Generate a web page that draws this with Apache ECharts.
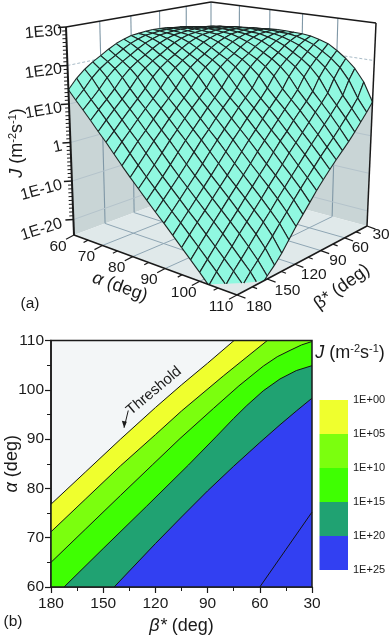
<!DOCTYPE html>
<html>
<head>
<meta charset="utf-8">
<script src="https://cdn.jsdelivr.net/npm/echarts@6/dist/echarts.min.js"></script>
<style>
    html, body { margin: 0; padding: 0; background: #fff; }
    #chart { width: 390px; height: 635px; }
</style>
</head>
<body>
<div id="chart"></div>
<script>
// (a) surface, log10(J). rows = alpha, columns = beta
var surfAlpha = [60, 62.5, 65, 67.5, 70, 72.5, 75, 77.5, 80, 82.5, 85, 87.5, 90, 92.5, 95, 97.5, 100, 102.5, 105, 107.5, 110];
var surfBeta = [30, 37.5, 45, 52.5, 60, 67.5, 75, 82.5, 90, 97.5, 105, 112.5, 120, 127.5, 135, 142.5, 150, 157.5, 165, 172.5, 180];
var surfLogJ = [
    [22.3, 22.7, 23.2, 23.7, 24.1, 24.4, 24.6, 24.9, 25.0, 25.1, 25.0, 24.8, 24.6, 24.0, 23.2, 22.1, 20.8, 19.6, 18.1, 16.2, 13.7],
    [22.6, 23.2, 23.7, 24.1, 24.4, 24.6, 24.9, 25.0, 25.1, 25.0, 24.8, 24.6, 24.0, 23.2, 22.1, 20.8, 19.6, 18.1, 16.2, 13.7, 11.5],
    [22.9, 23.6, 24.1, 24.4, 24.6, 24.9, 25.0, 25.1, 25.0, 24.8, 24.6, 24.0, 23.2, 22.1, 20.8, 19.6, 18.1, 16.2, 13.7, 11.5, 9.4],
    [23.2, 24.0, 24.4, 24.6, 24.9, 25.0, 25.1, 25.0, 24.8, 24.6, 24.0, 23.2, 22.1, 20.8, 19.6, 18.1, 16.2, 13.7, 11.5, 9.4, 7.2],
    [23.5, 24.2, 24.5, 24.9, 25.0, 25.1, 25.0, 24.8, 24.6, 24.0, 23.2, 22.1, 20.8, 19.6, 18.1, 16.2, 13.7, 11.5, 9.4, 7.2, 4.9],
    [23.8, 24.4, 24.8, 25.0, 25.1, 25.0, 24.8, 24.6, 24.0, 23.2, 22.1, 20.8, 19.6, 18.1, 16.2, 13.7, 11.5, 9.4, 7.2, 4.9, 2.7],
    [24.1, 24.6, 24.9, 25.0, 25.0, 24.8, 24.6, 24.0, 23.2, 22.1, 20.8, 19.6, 18.1, 16.2, 13.7, 11.5, 9.4, 7.2, 4.9, 2.7, 0.3],
    [24.3, 24.7, 25.0, 24.9, 24.8, 24.6, 24.0, 23.2, 22.1, 20.8, 19.6, 18.1, 16.2, 13.7, 11.5, 9.4, 7.2, 4.9, 2.7, 0.3, -2.1],
    [24.5, 24.8, 24.9, 24.7, 24.6, 24.0, 23.2, 22.1, 20.8, 19.6, 18.1, 16.2, 13.7, 11.5, 9.4, 7.2, 4.9, 2.7, 0.3, -2.1, -4.4],
    [24.6, 24.8, 24.7, 24.6, 24.0, 23.2, 22.1, 20.8, 19.6, 18.1, 16.2, 13.6, 11.4, 9.4, 7.2, 4.9, 2.7, 0.3, -2.1, -4.4, -6.6],
    [24.6, 24.6, 24.5, 24.0, 23.3, 22.2, 20.8, 19.6, 18.0, 16.1, 13.6, 11.4, 9.3, 7.1, 4.9, 2.7, 0.3, -2.1, -4.4, -6.6, -8.8],
    [24.5, 24.5, 24.0, 23.3, 22.2, 20.9, 19.6, 18.0, 16.0, 13.5, 11.3, 9.3, 7.1, 4.8, 2.7, 0.3, -2.1, -4.4, -6.6, -8.8, -11.0],
    [24.4, 24.1, 23.3, 22.3, 20.9, 19.6, 18.0, 16.0, 13.3, 11.2, 9.2, 7.0, 4.8, 2.6, 0.3, -2.1, -4.4, -6.6, -8.8, -11.0, -13.1],
    [24.1, 23.4, 22.4, 20.9, 19.5, 17.9, 15.9, 13.2, 11.0, 9.0, 6.9, 4.7, 2.6, 0.2, -2.1, -4.4, -6.6, -8.8, -11.0, -13.1, -15.3],
    [23.5, 22.5, 21.0, 19.5, 17.8, 15.7, 12.9, 10.8, 8.8, 6.7, 4.5, 2.4, 0.1, -2.2, -4.5, -6.6, -8.8, -11.0, -13.1, -15.3, -17.5],
    [22.7, 21.1, 19.5, 17.7, 15.5, 12.6, 10.5, 8.5, 6.4, 4.3, 2.2, 0.0, -2.3, -4.5, -6.7, -8.8, -11.0, -13.1, -15.3, -17.5, -19.7],
    [21.2, 19.5, 17.5, 15.2, 12.1, 10.0, 8.1, 6.1, 3.9, 2.0, -0.2, -2.5, -4.6, -6.8, -8.9, -11.1, -13.2, -15.3, -17.5, -19.7, -21.9],
    [19.4, 17.4, 14.9, 11.6, 9.5, 7.6, 5.5, 3.5, 1.5, -0.5, -2.7, -4.8, -6.9, -9.1, -11.2, -13.3, -15.4, -17.6, -19.7, -21.9, -24.2],
    [17.1, 14.4, 10.9, 8.8, 6.8, 4.9, 2.9, 1.0, -1.0, -3.1, -5.1, -7.2, -9.3, -11.5, -13.5, -15.6, -17.8, -19.9, -21.9, -24.2, -26.6],
    [13.9, 10.1, 7.9, 5.9, 3.9, 2.0, 0.2, -1.6, -3.6, -5.6, -7.6, -9.7, -11.9, -14.0, -16.2, -18.3, -20.3, -22.2, -24.3, -26.6, -29.0],
    [9.0, 6.8, 4.8, 2.8, 0.9, -0.8, -2.5, -4.3, -6.2, -8.2, -10.4, -12.6, -14.8, -17.2, -19.6, -21.6, -23.3, -25.1, -27.2, -29.3, -31.6]
];
var zTicks = [-20, -10, 0, 10, 20, 30];
var zLabels = ['1E-20', '1E-10', '1', '1E10', '1E20', '1E30'];
var alphaTicks = [60, 70, 80, 90, 100, 110];
var betaTicks = [30, 60, 90, 120, 150, 180];

// (b) contour lines, beta and alpha of the points on each line
var c0Beta = [180, 160, 140, 120, 105, 90, 74.8];
var c0Alpha = [76.8, 83.4, 90, 96.4, 101.0, 105.4, 110];
var c1Beta = [180, 160, 140, 120, 105, 81, 55.7];
var c1Alpha = [71.2, 77.9, 84.6, 90.9, 95.7, 102.8, 110];
var c2Beta = [180, 160, 140, 121.8, 105.9, 86.7, 72, 58, 50, 42.6, 36, 30];
var c2Alpha = [65, 71.8, 78.6, 84.75, 90.1, 96.2, 100.8, 104.8, 106.7, 108, 109.1, 109.8];
var c3Beta = [172.5, 150, 125, 101, 84.8, 75, 67.5, 58, 48.4, 39, 30];
var c3Alpha = [60, 67.8, 76.4, 84.75, 90.6, 94.2, 96.8, 99.8, 102.2, 103.9, 104.9];
var c4Beta = [143.7, 120, 105, 90, 75, 60, 48.4, 39, 30];
var c4Alpha = [60, 68.8, 74.2, 79.5, 84.5, 89.3, 92.9, 95.7, 98.3];
var c5Beta = [60, 45, 30];
var c5Alpha = [60, 67.6, 75.2];

var levelLabels = ['1E+00', '1E+05', '1E+10', '1E+15', '1E+20', '1E+25'];
var levelColors = ['#EFFF2E', '#7BFF0E', '#3FFF02', '#20A272', '#3240F2'];

var FONT = '"Liberation Sans", Arial, sans-serif';
var num = echarts.number;

// box corners on screen, order: (180,60) (30,60) (30,110) (180,110) in (beta,alpha)
var floorQuad = [[74, 235], [211, 184], [367, 226], [237, 295]];
var topQuad = [[66, 27], [211, 2], [376, 23], [238, 60]];
var Z_MIN = -24, Z_MAX = 30;

function quadMap(q) {
    var x0 = q[0][0], y0 = q[0][1], x1 = q[1][0], y1 = q[1][1], x2 = q[2][0], y2 = q[2][1], x3 = q[3][0], y3 = q[3][1];
    var dx1 = x1 - x2, dx2 = x3 - x2, sx = x0 - x1 + x2 - x3;
    var dy1 = y1 - y2, dy2 = y3 - y2, sy = y0 - y1 + y2 - y3;
    var den = dx1 * dy2 - dx2 * dy1;
    var g = (sx * dy2 - dx2 * sy) / den, h = (dx1 * sy - sx * dy1) / den;
    var a = x1 - x0 + g * x1, b = x3 - x0 + h * x3, d = y1 - y0 + g * y1, e = y3 - y0 + h * y3;
    return function (u, v) {
        var w = g * u + h * v + 1;
        return [(a * u + b * v + x0) / w, (d * u + e * v + y0) / w];
    };
}
var floorMap = quadMap(floorQuad), topMap = quadMap(topQuad);

function project(alpha, beta, z) {
    var u = num.linearMap(beta, [180, 30], [0, 1]);
    var v = num.linearMap(alpha, [60, 110], [0, 1]);
    var h = num.linearMap(z, [Z_MIN, Z_MAX], [0, 1]);
    var f = floorMap(u, v), t = topMap(u, v);
    return [f[0] + (t[0] - f[0]) * h, f[1] + (t[1] - f[1]) * h];
}

function line(a, b, color, width, dash) {
    return {
        type: 'line',
        shape: { x1: a[0], y1: a[1], x2: b[0], y2: b[1] },
        style: { stroke: color, lineWidth: width, lineDash: dash || null }
    };
}
function poly(points, fill) {
    return { type: 'polygon', shape: { points: points }, style: { fill: fill, stroke: null } };
}
function label(text, x, y, size, deg, align, rich) {
    return {
        type: 'text',
        x: x,
        y: y,
        rotation: (deg || 0) * Math.PI / 180,
        style: {
            text: text,
            font: size + 'px ' + FONT,
            fill: '#1a1a1a',
            align: align || 'center',
            verticalAlign: 'middle',
            textAlign: align || 'center',
            textVerticalAlign: 'middle',
            rich: rich || null
        }
    };
}
var unitRich = {
    i: { fontStyle: 'italic', fontSize: 18, fontFamily: FONT, color: '#1a1a1a' },
    n: { fontSize: 18, fontFamily: FONT, color: '#1a1a1a' },
    s: { fontSize: 11, fontFamily: FONT, color: '#1a1a1a', verticalAlign: 'top', lineHeight: 20 }
};

// walls, floor and their grid, under the surface
function renderBack() {
    var kids = [];
    var leftTop = surfLogJ[0][20], rightTop = surfLogJ[20][0];
    kids.push(poly([project(60, 180, Z_MIN), project(60, 30, Z_MIN), project(60, 30, leftTop), project(60, 180, leftTop)], '#C9D5D6'));
    kids.push(poly([project(60, 30, Z_MIN), project(110, 30, Z_MIN), project(110, 30, rightTop), project(60, 30, rightTop)], '#C9D5D6'));
    kids.push(poly([project(60, 180, Z_MIN), project(60, 30, Z_MIN), project(110, 30, Z_MIN), project(110, 180, Z_MIN)], '#E0E9EA'));
    var grid = '#8FA6B4';
    betaTicks.forEach(function (b) {
        if (b == 30 || b == 180) return;
        kids.push(line(project(60, b, Z_MIN), project(60, b, Z_MAX), '#7F97A6', 1.1));
        kids.push(line(project(60, b, Z_MIN), project(110, b, Z_MIN), grid, 1));
    });
    alphaTicks.forEach(function (a) {
        if (a == 60 || a == 110) return;
        kids.push(line(project(a, 30, Z_MIN), project(a, 30, Z_MAX), '#7F97A6', 1.1));
        kids.push(line(project(a, 180, Z_MIN), project(a, 30, Z_MIN), grid, 1));
    });
    kids.push(line(project(60, 30, Z_MIN), project(60, 30, Z_MAX), '#7F97A6', 1.1));
    zTicks.forEach(function (z) {
        if (z == Z_MAX) return;
        var c = z == 20 ? '#A9BCC8' : '#B4C3CB';
        var dash = z == 20 ? [3, 2] : null;
        kids.push(line(project(60, 180, z), project(60, 30, z), c, 1, dash));
        kids.push(line(project(60, 30, z), project(110, 30, z), c, 1, dash));
    });
    return { type: 'group', children: kids };
}

// one mesh cell, cut off where it goes through the floor
function clipEdge(a, b) {
    var t = (Z_MIN - a[2]) / (b[2] - a[2]);
    return [a[0] + (b[0] - a[0]) * t, a[1] + (b[1] - a[1]) * t, Z_MIN];
}
function renderCell(params, api) {
    var i = api.value(0), j = api.value(1);
    var corners = [[i, j], [i, j + 1], [i + 1, j + 1], [i + 1, j]].map(function (c) {
        return [surfAlpha[c[0]], surfBeta[c[1]], surfLogJ[c[0]][c[1]]];
    });
    var pts = [], kids = [];
    for (var k = 0; k < 4; k++) {
        var a = corners[k], b = corners[(k + 1) % 4];
        var aIn = a[2] >= Z_MIN, bIn = b[2] >= Z_MIN;
        if (aIn) pts.push(a);
        if (aIn != bIn) pts.push(clipEdge(a, b));
    }
    if (!pts.length) return { type: 'group', children: [] };
    kids.push(poly(pts.map(function (p) { return project(p[0], p[1], p[2]); }), '#90F8E0'));
    for (k = 0; k < 4; k++) {
        a = corners[k];
        b = corners[(k + 1) % 4];
        aIn = a[2] >= Z_MIN;
        bIn = b[2] >= Z_MIN;
        if (!aIn && !bIn) continue;
        var p = aIn ? a : clipEdge(a, b), q = bIn ? b : clipEdge(a, b);
        kids.push(line(project(p[0], p[1], p[2]), project(q[0], q[1], q[2]), '#1c2322', 1.1));
    }
    return { type: 'group', children: kids };
}

// box outline, ticks and labels of (a)
function renderBox() {
    var kids = [];
    var dark = '#1a1a1a';
    kids.push(line(project(60, 180, Z_MAX), project(60, 30, Z_MAX), dark, 1.5));
    kids.push(line(project(60, 30, Z_MAX), project(110, 30, Z_MAX), dark, 1.5));
    kids.push(line(project(60, 180, Z_MAX), project(60, 180, Z_MIN), dark, 2));
    kids.push(line(project(110, 30, Z_MAX), project(110, 30, Z_MIN), dark, 1.5));
    kids.push(line(project(60, 180, Z_MIN), project(110, 180, Z_MIN), dark, 1.5));
    kids.push(line(project(110, 30, Z_MIN), project(110, 180, Z_MIN), dark, 1.5));

    // log axis, one tick per decade
    for (var z = -20; z <= 30; z++) {
        var major = z % 10 == 0;
        var p = project(60, 180, z);
        kids.push(line(p, [p[0] - (major ? 8 : 4), p[1] + (major ? 0.5 : 0.2)], dark, major ? 1.5 : 1));
    }
    zTicks.forEach(function (t, n) {
        var p = project(60, 180, t);
        kids.push(label(zLabels[n], 62, p[1] + 3.5, 16, 5 + (30 - t) * 0.25, 'right'));
    });

    // alpha axis, ticks go along the beta direction
    for (var a = 60; a <= 110; a += 5) {
        var q = project(a, 180, Z_MIN), len = a % 10 == 0 ? 9 : 5;
        kids.push(line(q, [q[0] - 0.885 * len, q[1] + 0.463 * len], dark, 1.2));
    }
    alphaTicks.forEach(function (t) {
        var q = project(t, 180, Z_MIN);
        kids.push(label(String(t), q[0] - 16, q[1] + 11.5, 15.5));
    });

    // beta axis
    for (var b = 30; b <= 180; b += 15) {
        var r = project(110, b, Z_MIN), blen = b % 30 == 0 ? 9 : 5;
        kids.push(line(r, [r[0] + 0.94 * blen, r[1] + 0.345 * blen], dark, 1.2));
    }
    betaTicks.forEach(function (t) {
        var r = project(110, t, Z_MIN), u = (180 - t) / 150;
        kids.push(label(String(t), r[0] + 22 - 8 * u, r[1] + 12 - 3 * u, 15.5));
    });

    kids.push(label('{i|J}{n| (m}{s|-2}{n|s}{s|-1}{n|)}', 17, 143, 18, 90, 'center', unitRich));
    kids.push(label('{i|α}{n| (deg)}', 120, 287, 18, -20, 'center', unitRich));
    kids.push(label('{n|β* (deg)}', 342, 287, 18, 36, 'center', unitRich));
    kids.push(label('(a)', 30, 304, 15.5));
    return { type: 'group', children: kids };
}

function contourPoints(beta, alpha) {
    return beta.map(function (b, n) { return [b, alpha[n]]; });
}
var contours = [
    contourPoints(c0Beta, c0Alpha), contourPoints(c1Beta, c1Alpha), contourPoints(c2Beta, c2Alpha),
    contourPoints(c3Beta, c3Alpha), contourPoints(c4Beta, c4Alpha), contourPoints(c5Beta, c5Alpha)
];

// filled band: everything on the low beta side of a contour, later ones paint over
function renderBand(params, api) {
    var n = api.value(0);
    var pts = contours[n].slice();
    pts.push([30, pts[pts.length - 1][1]], [30, 60], [pts[0][0], 60]);
    return poly(pts.map(function (p) { return api.coord(p); }), levelColors[n]);
}

function renderNotes(params, api) {
    var kids = [];
    var c = [[180, 60], [30, 60], [30, 110], [180, 110]].map(function (p) { return api.coord(p); });
    kids.push({
        type: 'polygon',
        shape: { points: c },
        style: { fill: null, stroke: '#1a1a1a', lineWidth: 1.5 }
    });
    var tail = api.coord([135.6, 95.8]), tip = api.coord([138, 92.3]);
    kids.push(line(tail, tip, '#1a1a1a', 1));
    kids.push(poly([tip, [tip[0] - 2.2, tip[1] - 7], [tip[0] + 2.8, tip[1] - 6]], '#1a1a1a'));
    var t = api.coord([120.8, 99.8]);
    kids.push(label('Threshold', t[0], t[1], 15, 40));
    kids.push(label('(b)', 13, 622, 15.5));
    kids.push(label('{i|J}{n| (m}{s|-2}{n|s}{s|-1}{n|)}', 350, 353, 18, 0, 'center', unitRich));
    return { type: 'group', children: kids };
}

function renderLegend(params, api) {
    var n = api.value(0);
    var a = api.coord([0, n * 5]), b = api.coord([1, (n + 1) * 5]);
    return { type: 'rect', shape: { x: a[0], y: a[1], width: b[0] - a[0], height: b[1] - a[1] }, style: { fill: levelColors[n] } };
}

var cells = [];
for (var d = 0; d <= 38; d++) {
    for (var i = 0; i < 20; i++) {
        var j = d - i;
        if (j >= 0 && j < 20) cells.push([i, j]);
    }
}

var tickFont = { fontFamily: FONT, fontSize: 15.5, color: '#1a1a1a' };
var nameRich = {
    i: { fontStyle: 'italic', fontSize: 18, fontFamily: FONT, color: '#1a1a1a' },
    n: { fontSize: 18, fontFamily: FONT, color: '#1a1a1a' }
};

var series = [
    { type: 'custom', coordinateSystem: 'none', renderItem: renderBack, data: [[0]], silent: true, z: 1 },
    { type: 'custom', coordinateSystem: 'none', renderItem: renderCell, data: cells, silent: true, z: 2, progressive: 0 },
    { type: 'custom', coordinateSystem: 'none', renderItem: renderBox, data: [[0]], silent: true, z: 3 },
    { type: 'custom', xAxisIndex: 0, yAxisIndex: 0, renderItem: renderBand, data: [[0, 0], [1, 0], [2, 0], [3, 0], [4, 0]], encode: { x: 1, y: 1 }, silent: true, z: 2 },
    { type: 'custom', xAxisIndex: 1, yAxisIndex: 1, renderItem: renderLegend, data: [[0], [1], [2], [3], [4]], silent: true, z: 2 }
];
contours.forEach(function (pts) {
    series.push({
        type: 'line',
        xAxisIndex: 0,
        yAxisIndex: 0,
        data: pts,
        showSymbol: false,
        lineStyle: { color: '#141414', width: 1 },
        silent: true,
        z: 3
    });
});
series.push({ type: 'custom', xAxisIndex: 0, yAxisIndex: 0, renderItem: renderNotes, data: [[0, 0]], silent: true, z: 4, clip: false });

var option = {
    animation: false,
    backgroundColor: '#fff',
    grid: [
        { left: 51, top: 340.5, width: 261, height: 246.5, show: true, backgroundColor: '#F3F6F7', borderWidth: 0, outerBoundsMode: 'none' },
        { left: 319.5, top: 400, width: 28.5, height: 170, outerBoundsMode: 'none' }
    ],
    xAxis: [
        {
            type: 'value',
            gridIndex: 0,
            inverse: true,
            min: 30,
            max: 180,
            interval: 30,
            minorTick: { show: true, splitNumber: 2, length: 4, lineStyle: { color: '#1a1a1a', width: 1 } },
            axisTick: { length: 6, lineStyle: { color: '#1a1a1a', width: 1.2 } },
            axisLine: { onZero: false, lineStyle: { color: '#1a1a1a', width: 1.5 } },
            axisLabel: Object.assign({ margin: 9, showMinLabel: true, showMaxLabel: true }, tickFont),
            splitLine: { show: false },
            name: '{i|β*}{n| (deg)}',
            nameLocation: 'middle',
            nameGap: 30,
            nameMoveOverlap: false,
            nameTextStyle: { rich: nameRich }
        },
        { type: 'value', gridIndex: 1, min: 0, max: 1, show: false }
    ],
    yAxis: [
        {
            type: 'value',
            gridIndex: 0,
            min: 60,
            max: 110,
            interval: 10,
            minorTick: { show: true, splitNumber: 2, length: 4, lineStyle: { color: '#1a1a1a', width: 1 } },
            axisTick: { length: 6, lineStyle: { color: '#1a1a1a', width: 1.2 } },
            axisLine: { onZero: false, lineStyle: { color: '#1a1a1a', width: 1.5 } },
            axisLabel: Object.assign({ margin: 7, showMinLabel: true, showMaxLabel: true }, tickFont),
            splitLine: { show: false },
            name: '{i|α}{n| (deg)}',
            nameLocation: 'middle',
            nameGap: 30,
            nameMoveOverlap: false,
            nameTextStyle: { rich: nameRich }
        },
        {
            type: 'value',
            gridIndex: 1,
            position: 'right',
            inverse: true,
            min: 0,
            max: 25,
            interval: 5,
            axisLine: { show: false },
            axisTick: { show: false },
            splitLine: { show: false },
            axisLabel: {
                margin: 5,
                showMinLabel: true,
                showMaxLabel: true,
                fontFamily: FONT,
                fontSize: 11,
                color: '#1a1a1a',
                formatter: function (v) { return levelLabels[v / 5]; }
            }
        }
    ],
    series: series
};

var myChart = echarts.init(document.getElementById('chart'), null, { renderer: 'canvas' });
myChart.setOption(option);
</script>
</body>
</html>
